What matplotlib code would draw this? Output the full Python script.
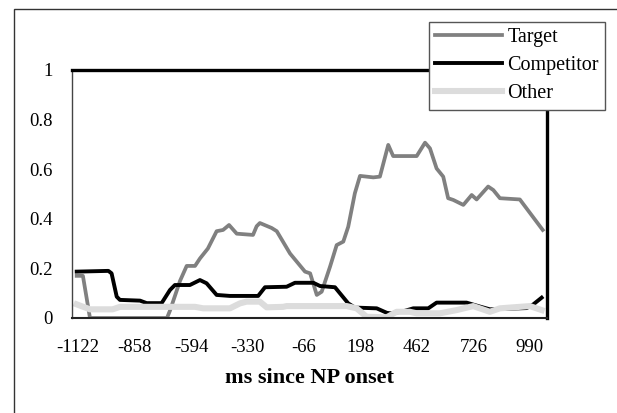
import numpy as np
import matplotlib.pyplot as plt
from matplotlib.patches import Rectangle

# tiempos (ms desde el inicio del SN) y proporciones
target_ms = [-1128, -1099, -1066, -706, -692, -645, -614, -575, -552, -515,
             -474, -444, -416, -380, -304, -287, -272, -217, -193, -131,
             -61, -37, -6, 17, 56, 87, 118, 141, 172, 196,
             258, 289, 328, 351, 461, 500, 523, 554, 585, 608,
             632, 679, 718, 741, 795, 819, 850, 943, 1050]
target_val = [0.17, 0.17, 0.0, 0.0, 0.03, 0.15, 0.21, 0.21, 0.24, 0.28,
              0.35, 0.355, 0.375, 0.34, 0.335, 0.37, 0.383, 0.363, 0.35, 0.26,
              0.187, 0.18, 0.093, 0.106, 0.207, 0.294, 0.308, 0.368, 0.503, 0.573,
              0.567, 0.57, 0.698, 0.653, 0.653, 0.707, 0.684, 0.603, 0.57, 0.483,
              0.476, 0.456, 0.496, 0.478, 0.53, 0.516, 0.483, 0.478, 0.355]

comp_ms = [-1128, -980, -965, -941, -926, -832, -801, -731, -692, -669,
           -599, -552, -521, -474, -412, -280, -248, -147, -108, -22,
           9, 79, 141, 172, 274, 321, 336, 390, 445, 515,
           554, 694, 757, 803, 975, 1006, 1045]
comp_val = [0.187, 0.19, 0.18, 0.086, 0.073, 0.07, 0.06, 0.06, 0.113, 0.133,
            0.133, 0.153, 0.14, 0.093, 0.089, 0.089, 0.124, 0.126, 0.142, 0.142,
            0.129, 0.124, 0.059, 0.042, 0.039, 0.021, 0.019, 0.025, 0.039, 0.039,
            0.062, 0.062, 0.046, 0.035, 0.04, 0.055, 0.082]

other_ms = [-1128, -1066, -960, -926, -692, -575, -537, -412, -365, -334,
            -272, -240, -163, -147, 134, 180, 227, 305, 321, 367,
            429, 461, 570, 648, 725, 803, 850, 990, 1045]
other_val = [0.055, 0.035, 0.035, 0.045, 0.045, 0.045, 0.039, 0.039, 0.059, 0.066,
             0.066, 0.043, 0.045, 0.048, 0.048, 0.039, 0.005, 0.003, 0.003, 0.025,
             0.025, 0.019, 0.019, 0.032, 0.048, 0.025, 0.039, 0.048, 0.032]

xticks = [-1122, -858, -594, -330, -66, 198, 462, 726, 990]
yticks = [0, 0.2, 0.4, 0.6, 0.8, 1]
yticklabels = ["0", "0.2", "0.4", "0.6", "0.8", "1"]

plt.rcParams['font.family'] = ['Liberation Serif', 'DejaVu Serif']

W, H = 617, 413
fig = plt.figure(figsize=(W / 100, H / 100), dpi=100)
ax = fig.add_axes([72 / W, 1 - 318 / H, 475 / W, 248 / H])

# marco exterior (se sale por la derecha y por abajo)
fig.patches.append(Rectangle((14 / W, -0.1), 1.2, 1.1 - 9 / H, transform=fig.transFigure,
                             fill=False, edgecolor='#333333', linewidth=1.0))

ax.plot(target_ms, target_val, color='#808080', lw=2.7, label='Target')
ax.plot(comp_ms, comp_val, color='black', lw=2.8, label='Competitor')
ax.plot(other_ms, other_val, color='#dcdcdc', lw=4.4, label='Other')

ax.set_xlim(-1150, 1070)
ax.set_ylim(0, 1)
ax.set_xticks(xticks)
ax.set_xticklabels([str(t) for t in xticks])
ax.set_yticks(yticks)
ax.set_yticklabels(yticklabels)
ax.tick_params(axis='both', length=0, labelsize=13.5)
ax.tick_params(axis='x', pad=15)
ax.tick_params(axis='y', pad=14)

ax.spines['top'].set_linewidth(2.4)
ax.spines['right'].set_linewidth(2.4)
ax.spines['left'].set_linewidth(1.0)
ax.spines['left'].set_color('#444444')
ax.spines['bottom'].set_linewidth(1.5)
ax.spines['bottom'].set_color('#222222')

ax.set_xlabel("ms since NP onset", fontsize=16, fontweight='bold', labelpad=9)

leg = ax.legend(loc='upper left', bbox_to_anchor=(429 / W, 1 - 22 / H),
                bbox_transform=fig.transFigure, borderaxespad=0, fontsize=14.5,
                fancybox=False, framealpha=1, edgecolor='#555555',
                handlelength=3.3, handletextpad=0.3, labelspacing=0.45,
                borderpad=0.3)
leg.get_frame().set_linewidth(1.0)

fig.savefig("out.png", dpi=100)
plt.close()
